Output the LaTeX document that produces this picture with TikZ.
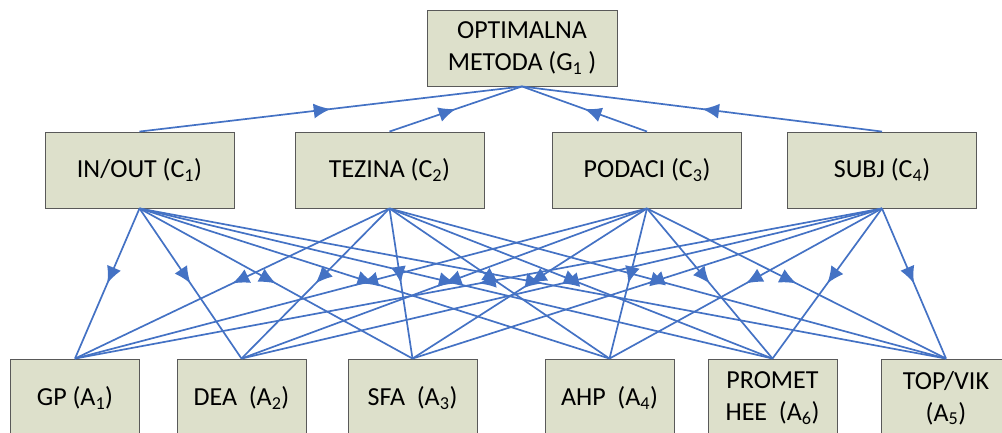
\documentclass[tikz,border=0pt]{standalone}
\usepackage{fontspec}
\setmainfont{Carlito}
\usetikzlibrary{arrows.meta,decorations.markings}
\definecolor{boxfill}{RGB}{221,224,203}
\definecolor{linkblue}{RGB}{68,114,196}
\tikzset{
 box/.style={draw=black!65,fill=boxfill,line width=0.9pt,minimum width=189pt,
  minimum height=76pt,align=center,inner sep=0pt},
 altbox/.style={box,minimum width=129pt,minimum height=78pt},
 link/.style={color=linkblue,line width=1.7pt,postaction={decorate},
  decoration={markings,mark=at position .5 with {\arrow{Latex[length=17pt,width=15pt]}}}}
}
\begin{document}
\begin{tikzpicture}[x=1pt,y=-1pt,font=\fontsize{26}{32}\selectfont]
 \useasboundingbox (0,0) rectangle (1002,432);
 % goal
 \node[box,minimum width=190pt] (g1) at (522,48) {OPTIMALNA\\METODA (G\textsubscript{1} )};
 % criteria
 \node[box] (c1) at (139.5,170) {IN/OUT (C\textsubscript{1})};
 \node[box] (c2) at (389.5,170) {TEZINA (C\textsubscript{2})};
 \node[box] (c3) at (647,170) {PODACI (C\textsubscript{3})};
 \node[box] (c4) at (882,170) {SUBJ (C\textsubscript{4})};
 % alternatives
 \node[altbox] (a1) at (75,398) {GP (A\textsubscript{1})};
 \node[altbox] (a2) at (241.5,398) {DEA\ \ (A\textsubscript{2})};
 \node[altbox] (a3) at (412.5,398) {SFA\ \ (A\textsubscript{3})};
 \node[altbox] (a4) at (609.5,398) {AHP\ \ (A\textsubscript{4})};
 \node[altbox] (a6) at (772.5,398) {PROMET\\HEE\ \ (A\textsubscript{6})};
 \node[altbox] (a5) at (946,398) {TOP/VIK\\(A\textsubscript{5})};
 % links
 \foreach \c in {c1,c2,c3,c4}
  \draw[link] (\c.north) -- (g1.south);
 \foreach \c in {c1,c2,c3,c4}
  \foreach \a in {a1,a2,a3,a4,a6,a5}
   \draw[link] (\c.south) -- (\a.north);
\end{tikzpicture}
\end{document}
